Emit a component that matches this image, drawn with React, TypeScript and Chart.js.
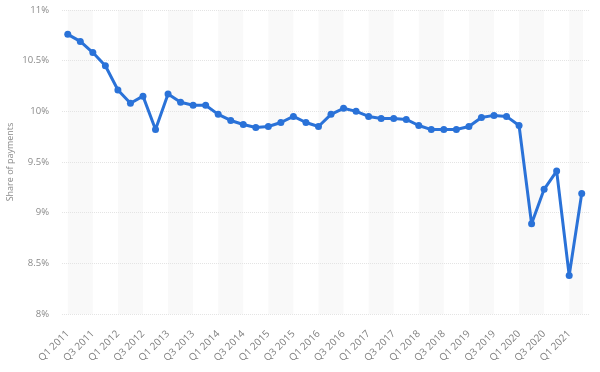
import React, { useEffect, useRef } from "react";
import { Chart, registerables } from "chart.js";

Chart.register(...registerables);

const quarters = [
  "Q1 2011", "Q2 2011", "Q3 2011", "Q4 2011",
  "Q1 2012", "Q2 2012", "Q3 2012", "Q4 2012",
  "Q1 2013", "Q2 2013", "Q3 2013", "Q4 2013",
  "Q1 2014", "Q2 2014", "Q3 2014", "Q4 2014",
  "Q1 2015", "Q2 2015", "Q3 2015", "Q4 2015",
  "Q1 2016", "Q2 2016", "Q3 2016", "Q4 2016",
  "Q1 2017", "Q2 2017", "Q3 2017", "Q4 2017",
  "Q1 2018", "Q2 2018", "Q3 2018", "Q4 2018",
  "Q1 2019", "Q2 2019", "Q3 2019", "Q4 2019",
  "Q1 2020", "Q2 2020", "Q3 2020", "Q4 2020",
  "Q1 2021", "Q2 2021",
];

const shareOfPayments = [
  10.76, 10.69, 10.58, 10.45,
  10.21, 10.08, 10.15, 9.82,
  10.17, 10.09, 10.06, 10.06,
  9.97, 9.91, 9.87, 9.84,
  9.85, 9.89, 9.95, 9.89,
  9.85, 9.97, 10.03, 10.0,
  9.95, 9.93, 9.93, 9.92,
  9.86, 9.82, 9.82, 9.82,
  9.85, 9.94, 9.96, 9.95,
  9.86, 8.89, 9.23, 9.41,
  8.38, 9.19,
];

const yTickValues = [8, 8.5, 9, 9.5, 10, 10.5, 11];
const yTickLabels = ["8%", "8.5%", "9%", "9.5%", "10%", "10.5%", "11%"];
const yAxisTitle = "Share of payments";

const LINE_BLUE = "#2a72d8";

const bandPlugin = {
  id: "bands",
  beforeDraw(chart: any) {
    const { ctx, chartArea, scales } = chart;
    const x = scales.x;
    ctx.save();
    ctx.beginPath();
    ctx.rect(chartArea.left, chartArea.top, chartArea.right - chartArea.left, chartArea.bottom - chartArea.top);
    ctx.clip();
    ctx.fillStyle = "#f9f9f9";
    const lastEdge = x.getPixelForValue(quarters.length - 1 + 0.1);
    for (let i = 0; i < quarters.length; i += 4) {
      const x0 = x.getPixelForValue(i);
      const x1 = Math.min(x.getPixelForValue(i + 2), lastEdge);
      ctx.fillRect(x0, chartArea.top, x1 - x0, chartArea.bottom - chartArea.top);
    }
    ctx.restore();
  },
};

export default function App() {
  const canvasRef = useRef<HTMLCanvasElement | null>(null);

  useEffect(() => {
    if (!canvasRef.current) return;
    const points = shareOfPayments.map((v, i) => ({ x: i, y: v }));
    const chart = new Chart(canvasRef.current, {
      type: "line",
      data: {
        datasets: [
          {
            label: yAxisTitle,
            data: points,
            borderColor: LINE_BLUE,
            backgroundColor: LINE_BLUE,
            borderWidth: 3,
            borderJoinStyle: "round",
            borderCapStyle: "round",
            pointRadius: 3.5,
            pointBorderWidth: 0,
            pointBackgroundColor: LINE_BLUE,
            tension: 0,
          },
        ],
      },
      options: {
        animation: false,
        responsive: true,
        maintainAspectRatio: false,
        layout: { padding: { top: 10, right: 10, left: 0, bottom: 0 } },
        plugins: {
          legend: { display: false },
          tooltip: { enabled: false },
        },
        scales: {
          x: {
            type: "linear",
            min: -0.46,
            max: 41.66,
            grid: { display: false },
            border: { display: false },
            afterBuildTicks: (scale: any) => {
              const t: any[] = [];
              for (let i = 0; i < quarters.length; i += 2) t.push({ value: i });
              scale.ticks = t;
            },
            afterFit: (scale: any) => {
              scale.height = 58;
              scale.paddingTop = 0;
              scale.paddingBottom = 0;
            },
            ticks: {
              autoSkip: false,
              minRotation: 45,
              maxRotation: 45,
              padding: 6,
              color: "#808080",
              font: { family: "'Open Sans', sans-serif", size: 10 },
              callback: (value: any) => quarters[value as number] ?? "",
            },
          },
          y: {
            min: 8,
            max: 11,
            afterBuildTicks: (scale: any) => {
              scale.ticks = yTickValues.map((v) => ({ value: v }));
            },
            afterFit: (scale: any) => {
              scale.width = 62;
              scale.paddingTop = 0;
              scale.paddingBottom = 0;
            },
            grid: {
              color: "#e4e4e4",
              lineWidth: 1,
              drawTicks: false,
            },
            border: { display: false, dash: [1, 1] },
            ticks: {
              padding: 13,
              color: "#8a8a8a",
              font: { family: "'Open Sans', sans-serif", size: 9.5 },
              callback: (value: any) => {
                const idx = yTickValues.indexOf(Number(value));
                return idx >= 0 ? yTickLabels[idx] : "";
              },
            },
            title: {
              display: true,
              text: yAxisTitle,
              color: "#8a8a8a",
              font: { family: "'Open Sans', sans-serif", size: 9 },
              padding: { top: 5, bottom: 0 },
            },
          },
        },
      },
      plugins: [bandPlugin],
    });
    return () => chart.destroy();
  }, []);

  return (
    <div style={{ position: "fixed", left: 0, top: 0, width: 600, height: 372, background: "#fff" }}>
      <canvas ref={canvasRef} />
    </div>
  );
}
